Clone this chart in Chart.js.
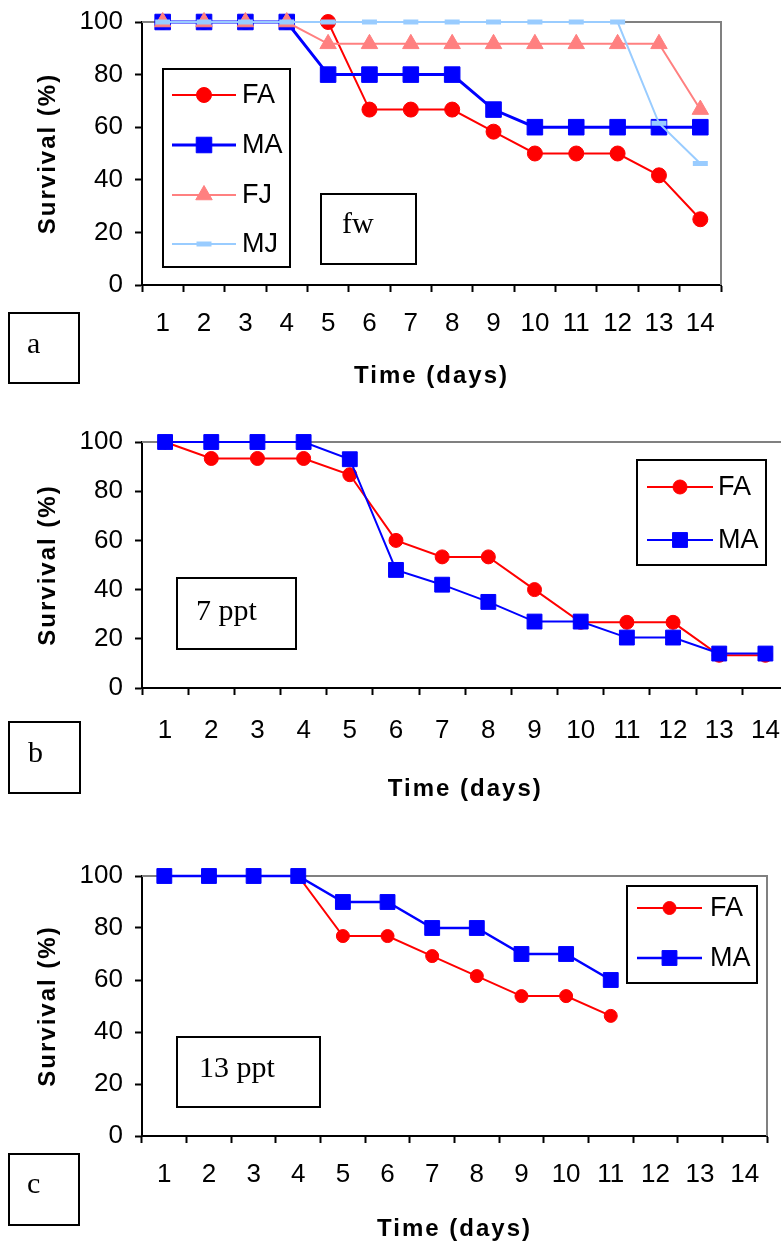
<!DOCTYPE html>
<html><head><meta charset="utf-8">
<script src="https://cdn.jsdelivr.net/npm/chart.js@4.4.1/dist/chart.umd.min.js"></script>
<style>
html,body{margin:0;padding:0;background:#fff;overflow:hidden;width:781px;height:1247px;position:relative;}
canvas{position:absolute;left:0;}
.box{position:absolute;border:2px solid #000;box-sizing:border-box;}
.lbl{position:absolute;font-family:"Liberation Serif","Times New Roman",serif;font-size:30px;line-height:30px;color:#000;white-space:nowrap;}
</style></head><body>
<canvas id="ca" width="781" height="400" style="top:0px"></canvas>
<canvas id="cb" width="800" height="410" style="top:400px"></canvas>
<canvas id="cc" width="781" height="437" style="top:810px"></canvas>

<div class="box" style="left:8px;top:312px;width:72px;height:72px"></div>
<div class="lbl" style="left:27px;top:328px">a</div>
<div class="box" style="left:320px;top:193px;width:97px;height:72px"></div>
<div class="lbl" style="left:342px;top:208px">fw</div>

<div class="box" style="left:8px;top:721px;width:73px;height:73px"></div>
<div class="lbl" style="left:28px;top:737px">b</div>
<div class="box" style="left:176px;top:577px;width:121px;height:73px"></div>
<div class="lbl" style="left:196px;top:595px">7 ppt</div>

<div class="box" style="left:8px;top:1153px;width:72px;height:73px"></div>
<div class="lbl" style="left:27px;top:1168px">c</div>
<div class="box" style="left:176px;top:1036px;width:145px;height:72px"></div>
<div class="lbl" style="left:199px;top:1052px">13 ppt</div>

<script>
// ---- data ----
const days = ['1','2','3','4','5','6','7','8','9','10','11','12','13','14'];
const yTicks = [0, 20, 40, 60, 80, 100];
const xTitle = 'Time (days)';
const yTitle = 'Survival (%)';
const seriesNames = ['FA', 'MA', 'FJ', 'MJ'];

// panel a (fw)
const fwFA = [100,100,100,100,100,66.7,66.7,66.7,58.3,50,50,50,41.7,25];
const fwMA = [100,100,100,100,80,80,80,80,66.7,60,60,60,60,60];
const fwFJ = [100,100,100,100,91.7,91.7,91.7,91.7,91.7,91.7,91.7,91.7,91.7,66.7];
const fwMJ = [100,100,100,100,100,100,100,100,100,100,100,100,61.5,46.2];
// panel b (7 ppt)
const p7FA = [100,93.3,93.3,93.3,86.7,60,53.3,53.3,40,26.7,26.7,26.7,13.3,13.3];
const p7MA = [100,100,100,100,93,48,42,35,27,27,20.5,20.5,14,14];
// panel c (13 ppt)
const p13FA = [100,100,100,100,76.9,76.9,69.2,61.5,53.8,53.8,46.2,null,null,null];
const p13MA = [100,100,100,100,90,90,80,80,70,70,60,null,null,null];

const SANS = '"Liberation Sans", Arial, sans-serif';

const styleFA = (r) => ({label:seriesNames[0], borderColor:'#FF0000', backgroundColor:'#FF0000', pointBackgroundColor:'#FF0000', pointStyle:'circle', pointRadius:r, pointBorderWidth:1, borderWidth:2, order:3});
const styleMA = (r, w) => ({label:seriesNames[1], borderColor:'#0000FF', backgroundColor:'#0000FF', pointBackgroundColor:'#0000FF', pointStyle:'rect', pointRadius:r, pointBorderWidth:1, borderWidth:w, order:2});
const styleFJ = {label:seriesNames[2], borderColor:'#FF8080', backgroundColor:'#FF8080', pointBackgroundColor:'#FF8080', pointStyle:'triangle', pointRadius:9.5, pointBorderWidth:1, borderWidth:2, order:1};
const styleMJ = {label:seriesNames[3], borderColor:'#99CCFF', backgroundColor:'#99CCFF', pointBackgroundColor:'#99CCFF', pointStyle:'line', pointRadius:7.5, pointBorderWidth:5, borderWidth:2, order:0};

const panelPlugin = {
  id: 'panel',
  beforeDatasetsDraw(chart, args, o) {
    const {ctx, chartArea: a} = chart;
    ctx.save();
    ctx.strokeStyle = '#808080'; ctx.lineWidth = 2;
    ctx.beginPath(); ctx.moveTo(a.left, a.top); ctx.lineTo(a.right, a.top); ctx.lineTo(a.right, a.bottom); ctx.stroke();
    ctx.restore();
  },
  afterDraw(chart, args, o) {
    const {ctx, chartArea: a} = chart;
    ctx.save();
    ctx.fillStyle = '#000';
    ctx.font = 'bold 24px ' + SANS;
    ctx.letterSpacing = '2px';
    ctx.textAlign = 'center'; ctx.textBaseline = 'middle';
    ctx.fillText(o.xTitle, (a.left + a.right) / 2, o.xTitleY);
    ctx.translate(o.yTitleX, (a.top + a.bottom) / 2);
    ctx.rotate(-Math.PI / 2);
    ctx.fillText(o.yTitle, 0, 0);
    ctx.restore();

    const L = o.legend;
    ctx.save();
    ctx.fillStyle = '#fff';
    ctx.fillRect(L.x, L.y, L.w, L.h);
    ctx.strokeStyle = '#000'; ctx.lineWidth = 2;
    ctx.strokeRect(L.x, L.y, L.w, L.h);
    chart.data.datasets.forEach((ds, i) => {
      const y = L.rows[i];
      ctx.strokeStyle = ds.borderColor; ctx.lineWidth = ds.borderWidth;
      ctx.beginPath(); ctx.moveTo(L.x1, y); ctx.lineTo(L.x2, y); ctx.stroke();
      ctx.fillStyle = ds.pointBackgroundColor; ctx.strokeStyle = ds.borderColor; ctx.lineWidth = ds.pointBorderWidth;
      Chart.helpers.drawPoint(ctx, {pointStyle: ds.pointStyle, radius: ds.pointRadius, borderWidth: ds.pointBorderWidth, rotation: 0}, (L.x1 + L.x2) / 2, y);
      ctx.fillStyle = '#000';
      ctx.font = '27px ' + SANS;
      ctx.textAlign = 'left'; ctx.textBaseline = 'middle';
      ctx.fillText(ds.label, L.tx, y + 1);
    });
    ctx.restore();
  }
};

function scales(xHeight, xPad) {
  return {
    x: {
      type: 'category', offset: true,
      grid: {display: true, offset: true, drawOnChartArea: false, drawTicks: true, tickLength: 7, tickWidth: 2, tickColor: '#000'},
      border: {display: true, color: '#000', width: 2},
      ticks: {color: '#000', font: {family: SANS, size: 26}, padding: xPad, autoSkip: false, maxRotation: 0, minRotation: 0},
      afterFit: s => { s.height = xHeight; s.paddingLeft = 0; s.paddingRight = 0; }
    },
    y: {
      min: 0, max: 100,
      afterBuildTicks: s => { s.ticks = yTicks.map(v => ({value: v})); },
      grid: {display: true, drawOnChartArea: false, drawTicks: true, tickLength: 7, tickWidth: 2, tickColor: '#000'},
      border: {display: true, color: '#000', width: 2},
      ticks: {color: '#000', font: {family: SANS, size: 26}, padding: 12},
      afterFit: s => { s.width = 142; s.paddingTop = 0; s.paddingBottom = 0; }
    }
  };
}

function makeChart(id, datasets, padding, xHeight, xPad, panelOpts) {
  new Chart(document.getElementById(id), {
    type: 'line',
    data: {labels: days, datasets: datasets.map(d => Object.assign({tension: 0, clip: false, fill: false}, d))},
    options: {
      responsive: false, animation: false, devicePixelRatio: 1,
      layout: {padding: padding},
      scales: scales(xHeight, xPad),
      plugins: {legend: {display: false}, tooltip: {enabled: false}, panel: panelOpts}
    },
    plugins: [panelPlugin]
  });
}

makeChart('ca', [
  Object.assign({data: fwFA}, styleFA(7.5)),
  Object.assign({data: fwMA}, styleMA(11, 3)),
  Object.assign({data: fwFJ}, styleFJ),
  Object.assign({data: fwMJ}, styleMJ)
], {top: 22, right: 60, left: 0, bottom: 0}, 115, 16, {
  xTitle: xTitle, yTitle: yTitle, xTitleY: 376, yTitleX: 48,
  legend: {x: 163, y: 69, w: 127, h: 198, x1: 172, x2: 236, tx: 242, rows: [95, 145, 195, 244]}
});

makeChart('cb', [
  Object.assign({data: p7FA}, styleFA(7)),
  Object.assign({data: p7MA}, styleMA(10.5, 2))
], {top: 42, right: 10, left: 0, bottom: 0}, 122, 20, {
  xTitle: xTitle, yTitle: yTitle, xTitleY: 389, yTitleX: 48,
  legend: {x: 637, y: 60, w: 129, h: 105, x1: 647, x2: 713, tx: 718, rows: [87, 140]}
});

makeChart('cc', [
  Object.assign({data: p13FA}, styleFA(6.5)),
  Object.assign({data: p13MA}, styleMA(10.5, 2.5))
], {top: 66, right: 14, left: 0, bottom: 0}, 111, 16, {
  xTitle: xTitle, yTitle: yTitle, xTitleY: 419, yTitleX: 48,
  legend: {x: 627, y: 76, w: 130, h: 97, x1: 637, x2: 702, tx: 710, rows: [98, 148]}
});
</script>
</body></html>
